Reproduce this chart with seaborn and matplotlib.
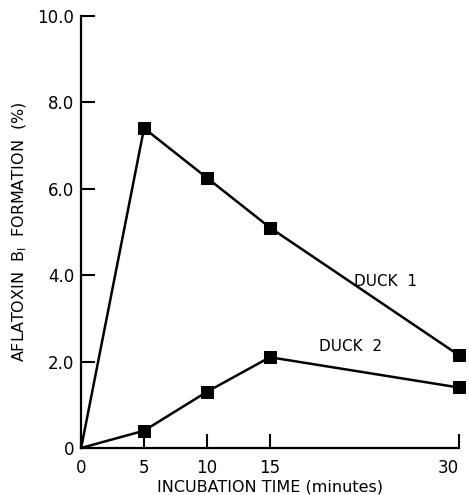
import pandas as pd
import matplotlib
matplotlib.use("Agg")
import matplotlib.pyplot as plt
import seaborn as sns

# data
minutes = [0, 5, 10, 15, 30]
duck1 = [0, 7.4, 6.25, 5.1, 2.15]
duck2 = [0, 0.4, 1.3, 2.1, 1.4]

df = pd.DataFrame({
    "time": minutes * 2,
    "pct": duck1 + duck2,
    "duck": ["DUCK 1"] * len(minutes) + ["DUCK 2"] * len(minutes),
})

sns.set_style("ticks")
plt.rcParams["font.family"] = ["DejaVu Sans"]
plt.rcParams["text.color"] = "black"
plt.rcParams["axes.labelcolor"] = "black"
plt.rcParams["xtick.color"] = "black"
plt.rcParams["ytick.color"] = "black"

fig = plt.figure(figsize=(4.69, 4.95), dpi=100)
ax = fig.add_axes([0.173, 0.095, 0.805, 0.873])

# no marker at the origin, as in the original
sns.lineplot(data=df, x="time", y="pct", hue="duck", palette=["black", "black"],
             marker="s", markersize=8, markeredgecolor="black", linewidth=1.8,
             markevery=[1, 2, 3, 4], legend=False, ax=ax)
for ln in ax.lines:
    ln.set_clip_on(False)

ax.set_xlim(0, 30)
ax.set_ylim(0, 10)
ax.set_xticks(minutes)
ax.set_xticklabels(["0", "5", "10", "15", "30"])
ax.set_yticks([0, 2, 4, 6, 8, 10])
ax.set_yticklabels(["0", "2.0", "4.0", "6.0", "8.0", "10.0"])
ax.tick_params(direction="in", length=10, width=1.5, labelsize=12, pad=5)
ax.tick_params(axis="x", pad=8)
ax.get_xticklabels()[-1].set_horizontalalignment("right")
for s in ["top", "right"]:
    ax.spines[s].set_visible(False)
for s in ["left", "bottom"]:
    ax.spines[s].set_linewidth(1.6)
    ax.spines[s].set_color("black")

ax.set_xlabel("INCUBATION TIME (minutes)", fontsize=11.5, labelpad=2)
ax.set_ylabel("AFLATOXIN  B$_\\mathregular{I}$  FORMATION  (%)", fontsize=11.5, labelpad=6)

ax.text(21.7, 3.75, "DUCK  1", fontsize=11)
ax.text(18.9, 2.25, "DUCK  2", fontsize=11)

fig.savefig("out.png", dpi=100)
